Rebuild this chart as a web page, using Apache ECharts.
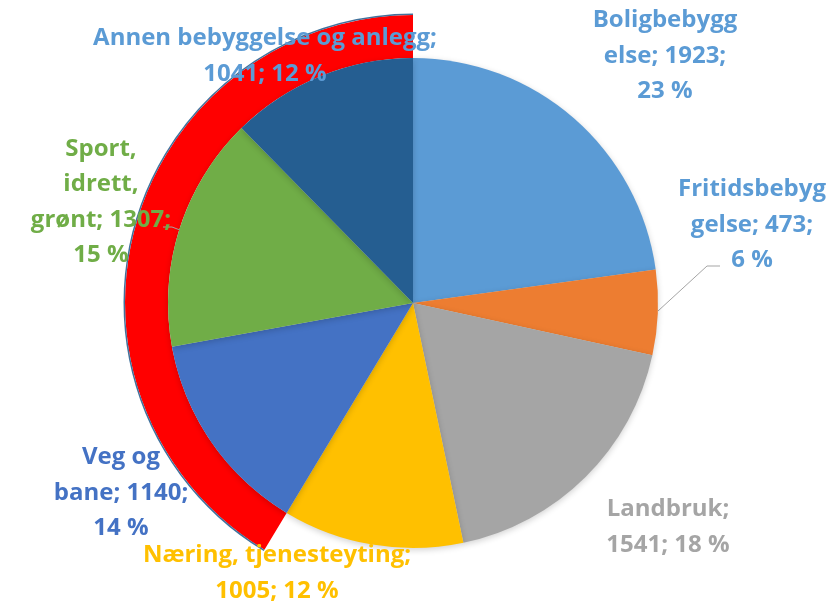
<!DOCTYPE html>
<html>
<head>
<meta charset="utf-8">
<script src="https://cdn.jsdelivr.net/npm/echarts@6/dist/echarts.min.js"></script>
<style>
    html, body { margin: 0; padding: 0; background: #fff; }
    #main { width: 830px; height: 606px; }
</style>
</head>
<body>
<div id="main"></div>
<script>
    // data
    var categories = ['Boligbebyggelse', 'Fritidsbebyggelse', 'Landbruk', 'Næring, tjenesteyting',
        'Veg og bane', 'Sport, idrett, grønt', 'Annen bebyggelse og anlegg'];
    var values = [1923, 473, 1541, 1005, 1140, 1307, 1041];
    // slices marked with the red ring (Veg og bane .. Annen)
    var markedFrom = 4;

    var colors = ['#5B9BD5', '#ED7D31', '#A5A5A5', '#FFC000', '#4472C4', '#70AD47', '#255E91'];
    var labelColors = ['#5B9BD5', '#5B9BD5', '#A5A5A5', '#FFC000', '#4472C4', '#70AD47', '#5B9BD5'];

    // how excel wrapped each label ({v} value, {p} percent)
    var labelWrap = [
        'Boligbebygg\nelse; {v};\n{p} %',
        'Fritidsbebyg\ngelse; {v};\n{p} %',
        'Landbruk;\n{v}; {p} %',
        'Næring, tjenesteyting;\n{v}; {p} %',
        'Veg og\nbane; {v};\n{p} %',
        'Sport,\nidrett,\ngrønt; {v};\n{p} %',
        'Annen bebyggelse og anlegg;\n{v}; {p} %'
    ];
    // label centres [x, y]
    var labelPos = [[665, 56], [752, 225], [668, 527], [277, 573], [121, 493], [101, 202], [265, 56]];

    var chart = echarts.init(document.getElementById('main'));

    var pieData = categories.map(function (name, i) {
        var item = {
            name: name,
            value: values[i],
            itemStyle: { color: colors[i] },
            label: { color: labelColors[i] }
        };
        if (i === 1 || i === 5) {
            item.labelLine = { show: true, lineStyle: { color: '#A5A5A5', width: 1 } };
        }
        return item;
    });

    var before = 0, marked = 0;
    values.forEach(function (v, i) {
        if (i < markedFrom) before += v; else marked += v;
    });

    function ring(radius, color, z) {
        return {
            type: 'pie',
            z: z,
            silent: true,
            center: [413, 303],
            radius: radius,
            startAngle: 90,
            clockwise: true,
            label: { show: false },
            labelLine: { show: false },
            itemStyle: { borderWidth: 0 },
            data: [
                { value: before, itemStyle: { color: 'rgba(0,0,0,0)' } },
                { value: marked, itemStyle: { color: color } }
            ]
        };
    }

    var option = {
        backgroundColor: '#fff',
        animation: false,
        series: [
            ring([245, 288], '#FF0000', 1),
            ring([288, 289.5], '#41719C', 1),
            {
                name: 'areal',
                type: 'pie',
                z: 2,
                center: [413, 303],
                radius: 245,
                startAngle: 90,
                clockwise: true,
                percentPrecision: 0,
                itemStyle: {
                    borderWidth: 0,
                    shadowBlur: 6,
                    shadowOffsetY: 2,
                    shadowColor: 'rgba(0,0,0,0.18)'
                },
                label: {
                    show: true,
                    position: 'outside',
                    fontFamily: '"Open Sans"',
                    fontWeight: 'bold',
                    fontSize: 24,
                    lineHeight: 35.5,
                    width: 420,
                    overflow: 'none',
                    align: 'center',
                    formatter: function (p) {
                        return labelWrap[p.dataIndex].replace('{v}', p.value).replace('{p}', p.percent);
                    }
                },
                labelLine: { show: false },
                labelLayout: function (params) {
                    var pos = labelPos[params.dataIndex];
                    var res = { x: pos[0], y: pos[1], align: 'center', verticalAlign: 'middle' };
                    if (params.dataIndex === 1) {
                        res.labelLinePoints = [[658, 311], [707, 266], [720, 266]];
                    }
                    if (params.dataIndex === 5) {
                        res.labelLinePoints = [[180, 230], [172, 227], [163, 227]];
                    }
                    return res;
                },
                data: pieData
            }
        ]
    };

    chart.setOption(option);
</script>
</body>
</html>
